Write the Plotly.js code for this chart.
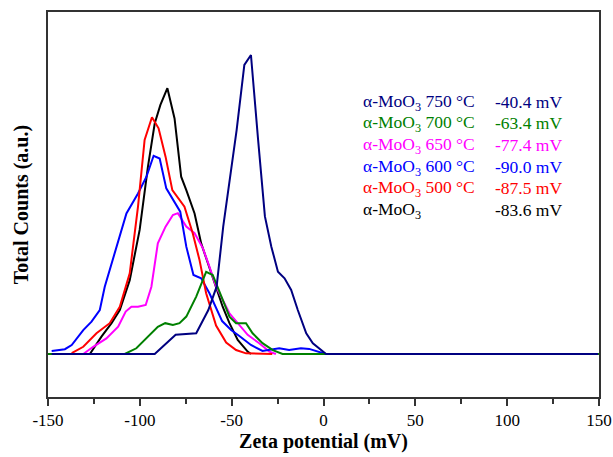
<!DOCTYPE html>
<html>
<head>
<meta charset="utf-8">
<script src="https://cdn.plot.ly/plotly-3.0.1.min.js"></script>
<style>html,body{margin:0;padding:0;background:#fff;}#chart{width:613px;height:457px;}</style>
</head>
<body>
<div id="chart"></div>
<script>
// Zeta potential (mV) and total counts (a.u.)
const x750 = [-148, -91.9, -80.5, -69.3, -62.7, -58.2, -54.6, -50.9, -47.3, -43.1, -39.5, -35.6, -31.9, -28.4, -24.8, -21.2, -17.6, -14.0, -9.4, -5.8, 1.4, 149.5];
const y750 = [0, 0, 6.4, 6.9, 14.7, 22.5, 42.6, 59.3, 74.9, 96.7, 100, 71.6, 46, 35.9, 27.5, 25.3, 21.4, 14.7, 6.9, 3.6, 0, 0];

const x700 = [-150, -108.2, -101.9, -95.6, -90.2, -86.2, -82.0, -78.4, -74.7, -69.3, -63.9, -60.3, -55.8, -51.2, -47.6, -42.2, -38.6, -33.2, -27.6, -22.3, 150];
const y700 = [0, 0, 1.9, 5.8, 9.1, 10.3, 9.7, 10.3, 12.5, 19.2, 27.5, 26.4, 19.2, 12.5, 10.3, 10.3, 6.9, 3.6, 1.3, 0, 0];

const x650 = [-130.8, -125.4, -118.2, -111.8, -107.7, -104.6, -101.0, -96.8, -93.7, -90.2, -86.0, -82.0, -79.3, -74.7, -70.2, -65.7, -62.1, -58.5, -51.2, -41.3, -35.0, -29.5, -25.9];
const y650 = [0, 2.4, 5.2, 9.1, 14.2, 15.8, 15.8, 16.4, 22.5, 37, 42.6, 46.5, 47.1, 42.6, 40.4, 35.4, 29.2, 22.5, 13.6, 6.4, 3.6, 0.8, 0];

const x600 = [-148, -140.8, -137.1, -130.8, -126.3, -121.8, -119.1, -113.6, -107.3, -101.0, -96.4, -92.5, -89.2, -85.6, -78.0, -74.7, -70.8, -66.6, -62.1, -55.2, -50.3, -45.8, -39.5, -33.2, -24.1, -18.7, -12.3, -7.8, -2.4, 1.2];
const y600 = [1.0, 1.6, 3.0, 8.0, 10.8, 14.7, 22.5, 33.7, 47, 53.7, 59.3, 66.3, 65.4, 55.4, 47.6, 35.9, 26.4, 25.3, 20.3, 11.0, 8.0, 6.0, 3.0, 1.0, 1.9, 1.3, 1.9, 1.7, 0.8, 0];

const x500 = [-137.1, -130.8, -123.6, -116.4, -110.9, -105.5, -101.0, -97.4, -93.4, -89.8, -86.0, -82.3, -75.7, -71.2, -67.5, -63.9, -58.5, -53.0, -47.6, -42.2, -27.9];
const y500 = [0.3, 2.4, 6.9, 10.3, 15.8, 27, 49.3, 71.6, 79.2, 75.5, 66, 54.8, 49.3, 40.4, 31.4, 20.3, 9.5, 3.8, 1.3, 0.2, 0];

const x0 = [-127.2, -120.9, -115.4, -110.9, -105.5, -100.1, -95.6, -91.9, -88.8, -85.0, -81.1, -77.5, -74.7, -70.2, -66.6, -63.0, -58.5, -54.9, -51.2, -46.7, -41.3, -39.5];
const y0 = [0, 5.8, 10.3, 14.7, 24.7, 41.5, 62.6, 77.1, 83.3, 88.9, 78.8, 59.3, 54.8, 47, 37, 30.3, 22.5, 15.8, 10.3, 4.7, 0.8, 0];

const tickVals = [-150, -100, -50, 0, 50, 100, 150];
const tickLabels = ['-150', '-100', '-50', '0', '50', '100', '150'];
const labels = ['α-MoO<sub>3</sub> 750 °C', 'α-MoO<sub>3</sub> 700 °C', 'α-MoO<sub>3</sub> 650 °C', 'α-MoO<sub>3</sub> 600 °C', 'α-MoO<sub>3</sub> 500 °C', 'α-MoO<sub>3</sub>'];
const zetaValues = ['-40.4 mV', '-63.4 mV', '-77.4 mV', '-90.0 mV', '-87.5 mV', '-83.6 mV'];
const colors = ['#000080', '#008000', '#ff00ff', '#0000ff', '#ff0000', '#000000'];

const series = [
  {x: x0, y: y0, c: colors[5], n: labels[5]},
  {x: x650, y: y650, c: colors[2], n: labels[2]},
  {x: x600, y: y600, c: colors[3], n: labels[3]},
  {x: x500, y: y500, c: colors[4], n: labels[4]},
  {x: x700, y: y700, c: colors[1], n: labels[1]},
  {x: x750, y: y750, c: colors[0], n: labels[0]}
];
const traces = series.map(s => ({
  x: s.x, y: s.y, type: 'scatter', mode: 'lines', name: s.n,
  line: {color: s.c, width: 2}
}));

const serif = 'Liberation Serif, Times New Roman, serif';
const rowY = [0.766, 0.711, 0.654, 0.597, 0.542, 0.485];
const annotations = [];
labels.forEach((t, i) => {
  annotations.push({xref: 'paper', yref: 'paper', x: 0.568, y: rowY[i], xanchor: 'left', yanchor: 'middle',
    text: t, showarrow: false, font: {family: serif, size: 17.5, color: colors[i]}});
  annotations.push({xref: 'paper', yref: 'paper', x: 0.807, y: rowY[i], xanchor: 'left', yanchor: 'middle',
    text: zetaValues[i], showarrow: false, font: {family: serif, size: 17.5, color: colors[i]}});
});

const layout = {
  width: 613, height: 457,
  margin: {l: 48, r: 14, t: 12, b: 60},
  paper_bgcolor: '#ffffff', plot_bgcolor: '#ffffff',
  showlegend: false,
  font: {family: serif, size: 17, color: '#000'},
  xaxis: {
    range: [-150, 150], tickmode: 'array', tickvals: tickVals, ticktext: tickLabels,
    ticks: 'outside', ticklen: 7, tickwidth: 1.5, tickcolor: '#333',
    minor: {tickvals: [-125, -75, -25, 25, 75, 125], ticks: 'outside', ticklen: 5, tickwidth: 1.5, tickcolor: '#333'},
    showgrid: false, zeroline: false, showline: true, mirror: true, linecolor: '#333', linewidth: 1.5,
    tickfont: {size: 17},
    title: {text: '<b>Zeta potential (mV)</b>', font: {size: 20}, standoff: 5}
  },
  yaxis: {
    range: [-14.4, 114.4], showticklabels: false, ticks: '',
    showgrid: false, zeroline: false, showline: true, mirror: true, linecolor: '#333', linewidth: 1.5,
    title: {text: '<b>Total Counts (a.u.)</b>', font: {size: 20}, standoff: 12}
  },
  annotations: annotations
};

Plotly.newPlot('chart', traces, layout, {displayModeBar: false});
</script>
</body>
</html>
